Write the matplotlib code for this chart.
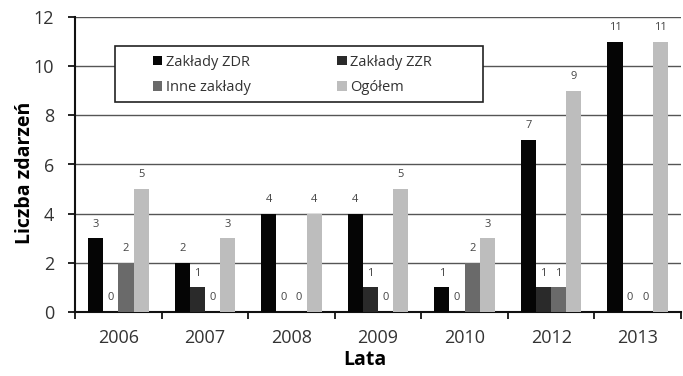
import numpy as np
import matplotlib
matplotlib.use("Agg")
import matplotlib.pyplot as plt
from matplotlib.patches import Rectangle

years = ["2006", "2007", "2008", "2009", "2010", "2012", "2013"]
zdr = [3, 2, 4, 4, 1, 7, 11]
zzr = [0, 1, 0, 1, 0, 1, 0]
inne = [2, 0, 0, 0, 2, 1, 0]
ogolem = [5, 3, 4, 5, 3, 9, 11]

series = [
    ("Zakłady ZDR", zdr, "#050505"),
    ("Zakłady ZZR", zzr, "#2a2a2a"),
    ("Inne zakłady", inne, "#6a6a6a"),
    ("Ogółem", ogolem, "#bdbdbd"),
]

plt.rcParams["font.family"] = ["Open Sans", "DejaVu Sans"]

W, H = 683, 376
fig = plt.figure(figsize=(W / 100, H / 100), dpi=100)
ax = fig.add_axes([0.110, 0.170, 0.887, 0.785])

x = np.arange(len(years))
w = 0.175
offsets = (np.arange(len(series)) - 1.5) * w
handles = []
for (name, vals, col), off in zip(series, offsets):
    bars = ax.bar(x + off, vals, w, color=col, label=name, zorder=3)
    handles.append(bars)
    for b, v in zip(bars, vals):
        ax.text(b.get_x() + b.get_width() / 2, v + 0.35, str(v),
                ha="center", va="bottom", fontsize=8, color="#444444", zorder=4)

ax.set_xlim(-0.5, len(years) - 0.5)
ax.set_ylim(0, 12)
ax.set_yticks(range(0, 13, 2))
ax.set_xticks(x)
ax.set_xticklabels(years, fontsize=13, color="#333333")
ax.set_xticks(np.arange(-0.5, len(years)), minor=True)
ax.tick_params(axis="x", which="major", length=0, pad=12)
ax.tick_params(axis="x", which="minor", length=5, width=1.2, direction="out")
ax.tick_params(axis="y", labelsize=13, labelcolor="#333333", length=5, width=1.2, pad=10)
ax.yaxis.grid(True, color="#555555", linewidth=1.0, zorder=0)
for s in ["top", "right"]:
    ax.spines[s].set_visible(False)
for s in ["left", "bottom"]:
    ax.spines[s].set_linewidth(1.5)
    ax.spines[s].set_color("#111111")

ax.set_xlabel("Lata", fontsize=14, fontweight="bold")
ax.set_ylabel("Liczba zdarzeń", fontsize=14, fontweight="bold")
ax.xaxis.set_label_coords(0.478, -0.13)
ax.yaxis.set_label_coords(-0.066, 0.47)

# legend box with white fill, entries laid out row-wise in two columns
box = Rectangle((115 / W, 1 - 102 / H), 368 / W, 56 / H, transform=fig.transFigure,
                facecolor="white", edgecolor="#222222", linewidth=1.2, zorder=3)
fig.patches.append(box)
order = [0, 2, 1, 3]
leg = fig.legend([handles[i] for i in order], [series[i][0] for i in order],
                 loc="center left", bbox_to_anchor=(153 / W, 1 - 75 / H),
                 ncol=2, fontsize=10.5, frameon=False,
                 handlelength=0.65, handleheight=0.65, handletextpad=0.25,
                 borderpad=0, borderaxespad=0, columnspacing=5.9, labelspacing=0.75)
leg.set_zorder(4)
for t in leg.get_texts():
    t.set_color("#333333")

fig.savefig("out.png", dpi=100)
